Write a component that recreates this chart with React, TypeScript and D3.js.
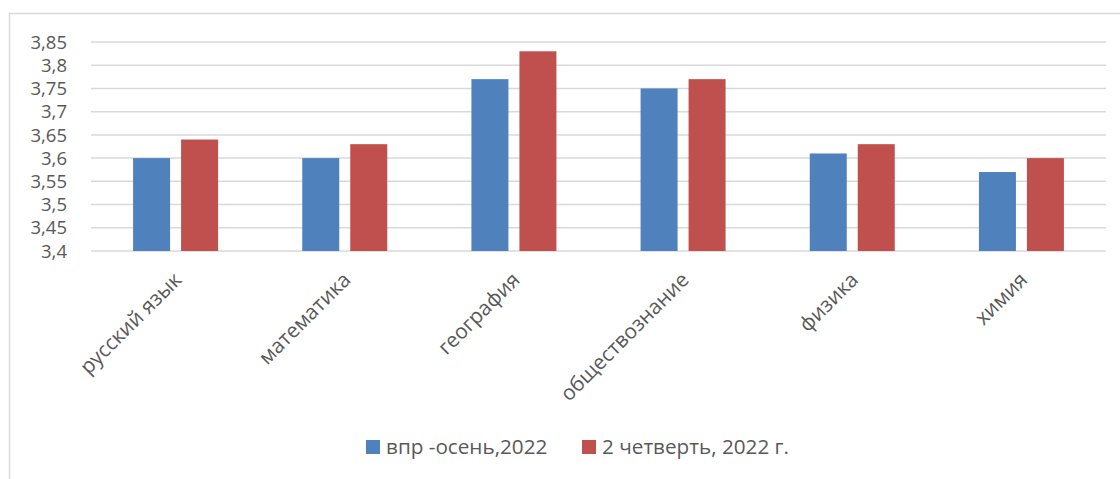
import React, { useEffect, useRef } from 'react';
import * as d3 from 'd3';

// categories and series
const categories = ['русский язык', 'математика', 'география', 'обществознание', 'физика', 'химия'];
const vprAutumn = [3.6, 3.6, 3.77, 3.75, 3.61, 3.57];
const quarter2 = [3.64, 3.63, 3.83, 3.77, 3.63, 3.6];
const seriesNames = ['впр -осень,2022', '2 четверть, 2022 г.'];
const yTicks = [3.4, 3.45, 3.5, 3.55, 3.6, 3.65, 3.7, 3.75, 3.8, 3.85];

const App = () => {
  const ref = useRef<SVGSVGElement>(null);

  useEffect(() => {
    const svg = d3.select(ref.current);
    svg.selectAll('*').remove();

    const width = 1120;
    const height = 479;
    const left = 91;
    const right = 1106;
    const top = 42;
    const bottom = 251;
    const font = "'Open Sans', 'Liberation Sans', sans-serif";
    const textColor = '#595959';
    const colors = ['#4f81bd', '#c0504d'];

    // outer chart border
    svg
      .append('rect')
      .attr('x', 9.5)
      .attr('y', 13.5)
      .attr('width', width)
      .attr('height', height)
      .attr('fill', '#fff')
      .attr('stroke', '#d9d9d9')
      .attr('stroke-width', 1.5);

    const x = d3.scaleBand().domain(categories).range([left, right]);
    const y = d3.scaleLinear().domain([3.4, 3.85]).range([bottom, top]);

    // gridlines
    svg
      .append('g')
      .selectAll('line')
      .data(yTicks)
      .enter()
      .append('line')
      .attr('x1', left)
      .attr('x2', right)
      .attr('y1', (d) => y(d))
      .attr('y2', (d) => y(d))
      .attr('stroke', '#d9d9d9')
      .attr('stroke-width', 1.5);

    // y labels
    svg
      .append('g')
      .selectAll('text')
      .data(yTicks)
      .enter()
      .append('text')
      .attr('x', 67)
      .attr('y', (d) => y(d))
      .attr('dy', '0.36em')
      .attr('text-anchor', 'end')
      .style('font-family', font)
      .style('font-size', '18.5px')
      .style('fill', textColor)
      .text((d) => String(d).replace('.', ','));

    const barW = 37;
    const gap = 11;
    const series = [vprAutumn, quarter2];

    series.forEach((vals, si) => {
      svg
        .append('g')
        .selectAll('rect')
        .data(vals)
        .enter()
        .append('rect')
        .attr('x', (d, i) => {
          const c = (x(categories[i]) as number) + x.bandwidth() / 2;
          return si === 0 ? c - gap / 2 - barW : c + gap / 2;
        })
        .attr('y', (d) => y(d))
        .attr('width', barW)
        .attr('height', (d) => bottom - y(d))
        .attr('fill', colors[si]);
    });

    // category labels, rotated
    svg
      .append('g')
      .selectAll('text')
      .data(categories)
      .enter()
      .append('text')
      .attr('transform', (d) => {
        const c = (x(d) as number) + x.bandwidth() / 2;
        return `translate(${c + 2}, ${bottom + 25}) rotate(-45)`;
      })
      .attr('text-anchor', 'end')
      .attr('dy', '0.35em')
      .style('font-family', font)
      .style('font-size', '20.7px')
      .style('fill', textColor)
      .text((d) => d);

    // legend
    const legendX = [366, 582];
    const legendY = 447;
    seriesNames.forEach((name, i) => {
      svg
        .append('rect')
        .attr('x', legendX[i])
        .attr('y', legendY - 7)
        .attr('width', 14)
        .attr('height', 14)
        .attr('fill', colors[i]);
      svg
        .append('text')
        .attr('x', legendX[i] + 20)
        .attr('y', legendY)
        .attr('dy', '0.35em')
        .style('font-family', font)
        .style('font-size', '20.7px')
        .style('fill', textColor)
        .text(name);
    });
  }, []);

  return (
    <svg
      ref={ref}
      width={1120}
      height={479}
      style={{ position: 'absolute', left: 0, top: 0, background: '#fff' }}
    ></svg>
  );
};

export default App;
